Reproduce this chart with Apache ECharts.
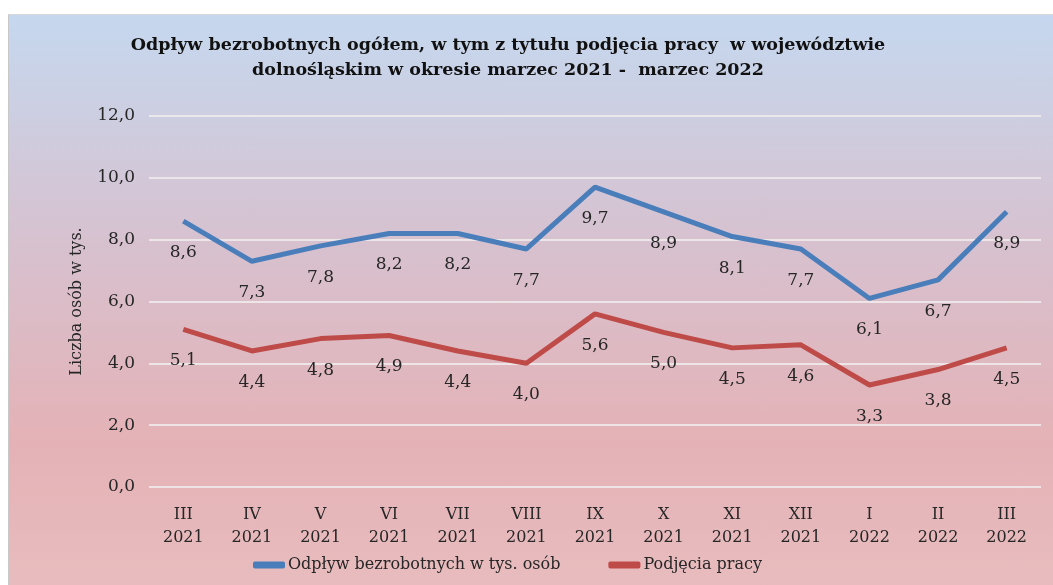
<!DOCTYPE html>
<html><head><meta charset="utf-8">
<script src="https://cdn.jsdelivr.net/npm/echarts@6/dist/echarts.min.js"></script>
<style>
html,body{margin:0;padding:0;background:#fff;}
#bg{position:absolute;left:8px;top:14px;width:1045px;height:571px;background:linear-gradient(to bottom,#c5d8ef 0%,#d7c1cf 40%,#e4b2b6 75%,#e8bcbe 100%);border-left:1px solid #c8c8c8;border-top:1px solid #d8d8d8;}
#c{position:absolute;left:0;top:0;width:1053px;height:585px;}
</style></head>
<body><div id="bg"></div><div id="c"></div>
<script>
const categories = ['III\n2021','IV\n2021','V\n2021','VI\n2021','VII\n2021','VIII\n2021','IX\n2021','X\n2021','XI\n2021','XII\n2021','I\n2022','II\n2022','III\n2022'];
const odplyw = [8.6,7.3,7.8,8.2,8.2,7.7,9.7,8.9,8.1,7.7,6.1,6.7,8.9];
const podjecia = [5.1,4.4,4.8,4.9,4.4,4.0,5.6,5.0,4.5,4.6,3.3,3.8,4.5];
const seriesNames = ['Odpływ bezrobotnych w tys. osób','Podjęcia pracy'];
const titleText = 'Odpływ bezrobotnych ogółem, w tym z tytułu podjęcia pracy  w województwie\ndolnośląskim w okresie marzec 2021 -  marzec 2022';

const font = 'DejaVu Serif';
const fmt = v => v.toFixed(1).replace('.', ',');
const chart = echarts.init(document.getElementById('c'));
const lbl = {show:true,position:'bottom',distance:23,fontFamily:font,fontSize:17,color:'#262626',formatter:p=>fmt(p.value)};
chart.setOption({
  backgroundColor:'transparent',
  animation:false,
  title:{text:titleText,left:503,top:28,textAlign:'center',textStyle:{fontFamily:font,fontWeight:'bold',fontSize:17.5,color:'#111',lineHeight:25}},
  grid:{left:149,right:12,top:116,bottom:98},
  legend:{bottom:7,left:248,itemWidth:32,itemHeight:7,itemGap:48,icon:'roundRect',textStyle:{fontFamily:font,fontSize:16,color:'#262626',padding:[0,0,0,-2]},data:seriesNames},
  xAxis:{type:'category',data:categories,boundaryGap:true,axisLine:{show:false},axisTick:{show:false},
    axisLabel:{fontFamily:font,fontSize:16,color:'#262626',lineHeight:23,margin:16}},
  yAxis:{type:'value',min:0,max:12,interval:2,name:'Liczba osób w tys.',nameLocation:'middle',nameGap:64,
    nameTextStyle:{fontFamily:font,fontSize:16,color:'#262626'},
    axisLabel:{fontFamily:font,fontSize:17,color:'#262626',margin:14,formatter:v=>fmt(v)},
    splitLine:{lineStyle:{color:'rgba(240,236,236,0.85)',width:2}}},
  series:[
    {name:seriesNames[0],type:'line',data:odplyw,symbol:'circle',symbolSize:0.1,showSymbol:true,lineStyle:{width:5,color:'#4a7ebb'},itemStyle:{color:'#4a7ebb'},label:lbl},
    {name:seriesNames[1],type:'line',data:podjecia,symbol:'circle',symbolSize:0.1,showSymbol:true,lineStyle:{width:5,color:'#be4b48'},itemStyle:{color:'#be4b48'},label:lbl}
  ]
});
</script></body></html>
